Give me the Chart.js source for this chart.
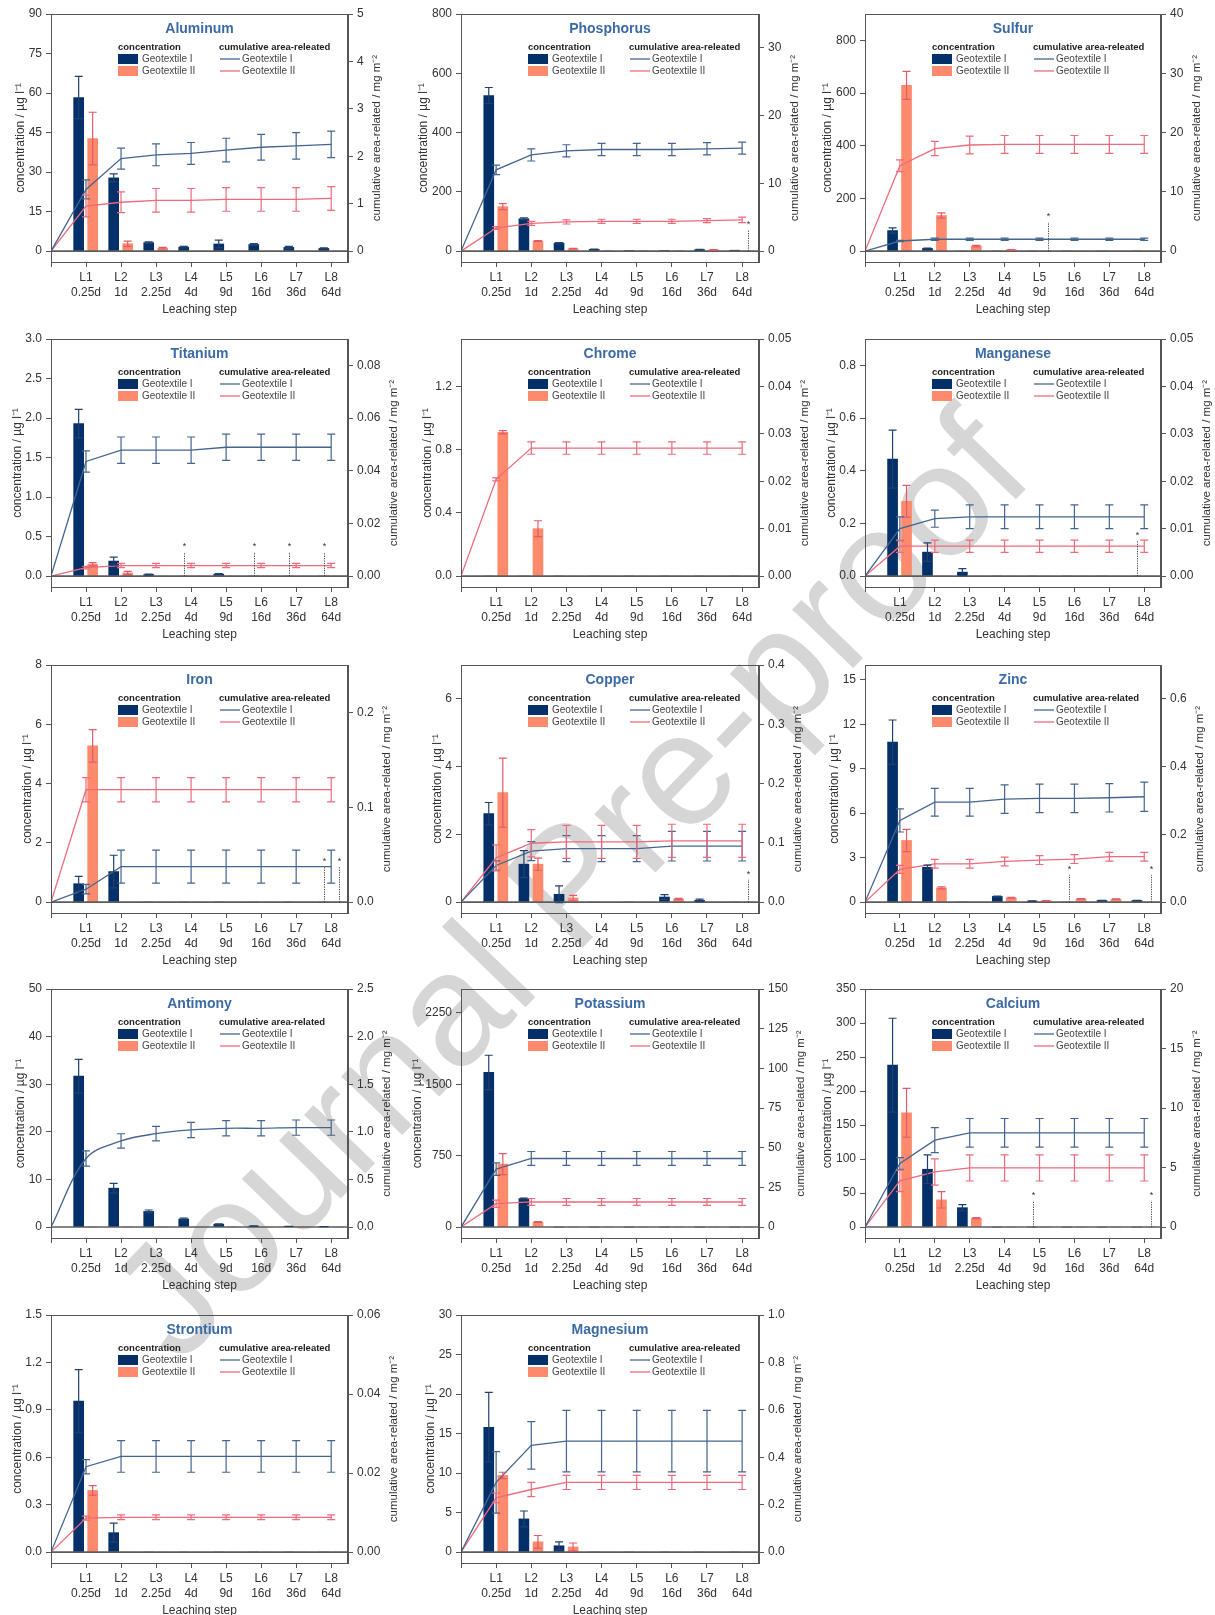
<!DOCTYPE html>
<html>
<head>
<meta charset="utf-8">
<script src="https://cdn.jsdelivr.net/npm/chart.js@4.4.1/dist/chart.umd.min.js"></script>
<style>
  body { margin: 0; background: #fff; }
  #page { position: relative; width: 1215px; height: 1615px; overflow: hidden; }
  .panel { position: absolute; z-index: 1; }
  #mark {
    position: absolute; left: 568px; top: 884px; z-index: 0;
    transform: translate(-50%, -50%) rotate(-46deg);
    font: 160px "Liberation Sans", Arial, sans-serif; color: #d6d6d6; white-space: nowrap;
  }
</style>
</head>
<body>
<div id="page"><div id="mark">Journal Pre-proof</div></div>
<script>
const elements = ['Aluminum', 'Phosphorus', 'Sulfur', 'Titanium', 'Chrome', 'Manganese', 'Iron',
  'Copper', 'Zinc', 'Antimony', 'Potassium', 'Calcium', 'Strontium', 'Magnesium'];
const stepNames = ['L1', 'L2', 'L3', 'L4', 'L5', 'L6', 'L7', 'L8'];
const stepDays = ['0.25d', '1d', '2.25d', '4d', '9d', '16d', '36d', '64d'];

// concentration (bars), µg/l
const concI = [
  [58.3, 27.8, 3.2, 1.5, 2.7, 2.5, 1.4, 1.0],
  [525, 109, 27, 6, 2, 2, 5, 3],
  [78, 10, 0, 0, 0, 0, 0, 0],
  [1.93, 0.19, 0.02, 0, 0.025, 0, 0, 0],
  [0, 0, 0, 0, 0, 0, 0, 0],
  [0.444, 0.091, 0.015, 0, 0, 0, 0, 0],
  [0.62, 1.03, 0, 0, 0, 0, 0, 0],
  [2.61, 1.12, 0.23, 0, 0, 0.15, 0.05, 0],
  [10.79, 2.35, 0, 0.38, 0.07, 0, 0.11, 0.11],
  [31.7, 8.17, 3.28, 1.68, 0.6, 0.2, 0.14, 0.07],
  [1624, 299, 0, 0, 0, 0, 0, 0],
  [238, 85, 28.5, 0, 0, 0, 0, 0],
  [0.955, 0.123, 0, 0, 0, 0, 0, 0],
  [15.8, 4.2, 0.8, 0, 0, 0, 0, 0]
];
const concIErr = [
  [8, 1.5, 0.3, 0.3, 1.5, 0.3, 0.4, 0.2],
  [27, 3, 2, 1, 0, 0, 1, 0],
  [10, 1, 0, 0, 0, 0, 0, 0],
  [0.18, 0.05, 0.005, 0, 0.005, 0, 0, 0],
  [0, 0, 0, 0, 0, 0, 0, 0],
  [0.11, 0.035, 0.013, 0, 0, 0, 0, 0],
  [0.25, 0.55, 0, 0, 0, 0, 0, 0],
  [0.33, 0.4, 0.25, 0, 0, 0.07, 0.04, 0],
  [1.5, 0.15, 0, 0.03, 0.01, 0, 0.01, 0.01],
  [3.5, 1.0, 0.3, 0.2, 0.08, 0.03, 0.02, 0.01],
  [180, 5, 0, 0, 0, 0, 0, 0],
  [69, 21, 4.5, 0, 0, 0, 0, 0],
  [0.2, 0.06, 0, 0, 0, 0, 0, 0],
  [4.4, 1.0, 0.5, 0, 0, 0, 0, 0]
];
const concII = [
  [42.7, 2.8, 1.1, 0, 0, 0, 0, 0],
  [150, 34, 8, 2, 1, 1, 4, 0],
  [629, 135, 19, 5, 0, 0, 0, 0],
  [0.15, 0.04, 0, 0, 0, 0, 0, 0],
  [0.91, 0.30, 0, 0, 0, 0, 0, 0],
  [0.284, 0, 0, 0, 0, 0, 0, 0],
  [5.27, 0, 0, 0, 0, 0, 0, 0],
  [3.23, 1.12, 0.12, 0, 0, 0.09, 0, 0],
  [4.16, 0.96, 0, 0.29, 0.09, 0.22, 0.2, 0],
  [0, 0, 0, 0, 0, 0, 0, 0],
  [661, 53, 0, 0, 0, 0, 0, 0],
  [168, 40, 12.8, 0, 0, 0, 0, 0],
  [0.39, 0, 0, 0, 0, 0, 0, 0],
  [9.7, 1.3, 0.65, 0, 0, 0, 0, 0]
];
const concIIErr = [
  [10, 1, 0.3, 0, 0, 0, 0, 0],
  [10, 1, 1, 0, 0, 0, 1, 0],
  [53, 10, 3, 1, 0, 0, 0, 0],
  [0.02, 0.02, 0, 0, 0, 0, 0, 0],
  [0.01, 0.05, 0, 0, 0, 0, 0, 0],
  [0.06, 0, 0, 0, 0, 0, 0, 0],
  [0.55, 0, 0, 0, 0, 0, 0, 0],
  [1.02, 0.18, 0.08, 0, 0, 0.02, 0, 0],
  [0.75, 0.07, 0, 0.03, 0.01, 0.02, 0.02, 0],
  [0, 0, 0, 0, 0, 0, 0, 0],
  [110, 5, 0, 0, 0, 0, 0, 0],
  [36, 12, 1, 0, 0, 0, 0, 0],
  [0.03, 0, 0, 0, 0, 0, 0, 0],
  [0.4, 0.8, 0.5, 0, 0, 0, 0, 0]
];

// cumulative area-related release (lines), mg/m2
const cumI = [
  [1.30, 1.95, 2.03, 2.06, 2.13, 2.19, 2.22, 2.25],
  [12.0, 14.2, 14.8, 15.0, 15.0, 15.0, 15.1, 15.2],
  [1.7, 2.0, 2.0, 2.0, 2.0, 2.0, 2.0, 2.0],
  [0.0435, 0.0478, 0.0478, 0.0478, 0.0489, 0.0489, 0.0489, 0.0489],
  null,
  [0.0100, 0.0121, 0.0125, 0.0125, 0.0125, 0.0125, 0.0125, 0.0125],
  [0.0136, 0.0374, 0.0374, 0.0374, 0.0374, 0.0374, 0.0374, 0.0374],
  [0.0617, 0.0859, 0.0903, 0.0903, 0.0903, 0.0943, 0.0943, 0.0943],
  [0.241, 0.295, 0.295, 0.304, 0.306, 0.306, 0.308, 0.311],
  [0.72, 0.904, 0.981, 1.02, 1.037, 1.037, 1.044, 1.044],
  [36.5, 43.2, 43.2, 43.2, 43.2, 43.2, 43.2, 43.2],
  [5.34, 7.30, 7.92, 7.92, 7.92, 7.92, 7.92, 7.92],
  [0.0216, 0.0242, 0.0242, 0.0242, 0.0242, 0.0242, 0.0242, 0.0242],
  [0.294, 0.45, 0.468, 0.468, 0.468, 0.468, 0.468, 0.468]
];
const cumIErr = [
  [0.2, 0.22, 0.23, 0.23, 0.25, 0.27, 0.28, 0.28],
  [0.7, 0.9, 0.9, 0.9, 0.9, 0.9, 0.9, 0.9],
  [0.1, 0.2, 0.2, 0.2, 0.2, 0.2, 0.2, 0.2],
  [0.004, 0.005, 0.005, 0.005, 0.005, 0.005, 0.005, 0.005],
  null,
  [0.0025, 0.0018, 0.0025, 0.0025, 0.0025, 0.0025, 0.0025, 0.0025],
  [0.005, 0.0175, 0.0175, 0.0175, 0.0175, 0.0175, 0.0175, 0.0175],
  [0.008, 0.016, 0.022, 0.022, 0.022, 0.025, 0.025, 0.025],
  [0.034, 0.041, 0.041, 0.042, 0.042, 0.042, 0.042, 0.043],
  [0.08, 0.076, 0.076, 0.08, 0.08, 0.08, 0.08, 0.08],
  [4, 4.4, 4.4, 4.4, 4.4, 4.4, 4.4, 4.4],
  [0.5, 1.05, 1.2, 1.2, 1.2, 1.2, 1.2, 1.2],
  [0.0018, 0.004, 0.004, 0.004, 0.004, 0.004, 0.004, 0.004],
  [0.13, 0.1, 0.13, 0.13, 0.13, 0.13, 0.13, 0.13]
];
const cumII = [
  [0.95, 1.03, 1.07, 1.07, 1.09, 1.09, 1.09, 1.11],
  [3.4, 4.1, 4.3, 4.4, 4.4, 4.4, 4.5, 4.6],
  [14.4, 17.3, 17.9, 18.0, 18.0, 18.0, 18.0, 18.0],
  [0.0032, 0.004, 0.004, 0.004, 0.004, 0.004, 0.004, 0.004],
  [0.0204, 0.027, 0.027, 0.027, 0.027, 0.027, 0.027, 0.027],
  [0.0063, 0.0063, 0.0063, 0.0063, 0.0063, 0.0063, 0.0063, 0.0063],
  [0.1185, 0.1185, 0.1185, 0.1185, 0.1185, 0.1185, 0.1185, 0.1185],
  [0.0746, 0.0993, 0.1016, 0.1016, 0.1016, 0.1033, 0.1033, 0.1033],
  [0.0966, 0.113, 0.113, 0.120, 0.124, 0.127, 0.134, 0.134],
  null,
  [14.7, 15.8, 15.8, 15.8, 15.8, 15.8, 15.8, 15.8],
  [3.88, 4.63, 4.97, 4.97, 4.97, 4.97, 4.97, 4.97],
  [0.0086, 0.0088, 0.0088, 0.0088, 0.0088, 0.0088, 0.0088, 0.0088],
  [0.229, 0.264, 0.294, 0.294, 0.294, 0.294, 0.294, 0.294]
];
const cumIIErr = [
  [0.23, 0.22, 0.25, 0.25, 0.25, 0.25, 0.25, 0.25],
  [0.2, 0.3, 0.3, 0.3, 0.3, 0.3, 0.3, 0.4],
  [1.0, 1.2, 1.5, 1.5, 1.5, 1.5, 1.5, 1.5],
  [0.0005, 0.0008, 0.0008, 0.0008, 0.0008, 0.0008, 0.0008, 0.0008],
  [0.0003, 0.0013, 0.0013, 0.0013, 0.0013, 0.0013, 0.0013, 0.0013],
  [0.0013, 0.0013, 0.0013, 0.0013, 0.0013, 0.0013, 0.0013, 0.0013],
  [0.0128, 0.0128, 0.0128, 0.0128, 0.0128, 0.0128, 0.0128, 0.0128],
  [0.022, 0.023, 0.028, 0.028, 0.028, 0.028, 0.028, 0.028],
  [0.012, 0.013, 0.013, 0.013, 0.013, 0.013, 0.013, 0.013],
  null,
  [2.3, 2.2, 2.2, 2.2, 2.2, 2.2, 2.2, 2.2],
  [0.9, 1.1, 1.1, 1.1, 1.1, 1.1, 1.1, 1.1],
  [0.0005, 0.0006, 0.0006, 0.0006, 0.0006, 0.0006, 0.0006, 0.0006],
  [0.02, 0.03, 0.03, 0.03, 0.03, 0.03, 0.03, 0.03]
];

// dotted "*" notes: [step position, height on concentration axis]
const notes = [
  [], [[8.18, 70]], [[5.24, 110]], [[3.79, 0.3], [5.8, 0.3], [6.8, 0.3], [7.79, 0.3]], [],
  [[7.8, 0.135]], [[7.8, 1.2], [8.22, 1.2]], [[8.18, 0.66]], [[5.84, 1.84], [8.19, 1.84]],
  [], [], [[4.82, 39], [8.19, 39]], [], []
];

const leftTicks = [
  ['0', '15', '30', '45', '60', '75', '90'],
  ['0', '200', '400', '600', '800'],
  ['0', '200', '400', '600', '800'],
  ['0.0', '0.5', '1.0', '1.5', '2.0', '2.5', '3.0'],
  ['0.0', '0.4', '0.8', '1.2'],
  ['0.0', '0.2', '0.4', '0.6', '0.8'],
  ['0', '2', '4', '6', '8'],
  ['0', '2', '4', '6'],
  ['0', '3', '6', '9', '12', '15'],
  ['0', '10', '20', '30', '40', '50'],
  ['0', '750', '1500', '2250'],
  ['0', '50', '100', '150', '200', '250', '300', '350'],
  ['0.0', '0.3', '0.6', '0.9', '1.2', '1.5'],
  ['0', '5', '10', '15', '20', '25', '30']
];
const leftMax = [90, 800, 900, 3, 1.5, 0.9, 8, 7, 16, 50, 2500, 350, 1.5, 30];
const rightTicks = [
  ['0', '1', '2', '3', '4', '5'],
  ['0', '10', '20', '30'],
  ['0', '10', '20', '30', '40'],
  ['0.00', '0.02', '0.04', '0.06', '0.08'],
  ['0.00', '0.01', '0.02', '0.03', '0.04', '0.05'],
  ['0.00', '0.01', '0.02', '0.03', '0.04', '0.05'],
  ['0.0', '0.1', '0.2'],
  ['0.0', '0.1', '0.2', '0.3', '0.4'],
  ['0.0', '0.2', '0.4', '0.6'],
  ['0.0', '0.5', '1.0', '1.5', '2.0', '2.5'],
  ['0', '25', '50', '75', '100', '125', '150'],
  ['0', '5', '10', '15', '20'],
  ['0.00', '0.02', '0.04', '0.06'],
  ['0.0', '0.2', '0.4', '0.6', '0.8', '1.0']
];
const rightMax = [5, 35, 40, 0.09, 0.05, 0.05, 0.25, 0.4, 0.7, 2.5, 150, 20, 0.06, 1.0];

// grid of panels
const colLeft = [0, 407, 813], colWidth = [407, 406, 402];
const areaLeft = [51, 54, 52], areaRight = [348, 352, 348];
const rowTop = [0, 325, 650, 973, 1298], rowHeight = [325, 325, 323, 325, 317];
const areaTop = [14, 14, 15, 16, 17], areaBottom = [262, 262, 263, 265, 265];

const FONT = '"Liberation Sans", Arial, Helvetica, sans-serif';
const NAVY = '#04306a', SALMON = '#fd8a6c', LINE1 = '#456590', LINE2 = '#ee6a7c';
const BELOW = 0.046;

Chart.defaults.font.family = FONT;
Chart.defaults.color = '#333';

function makeDecor(k) {
  const lineTitle = (elements[k] === 'Zinc' || elements[k] === 'Antimony')
    ? 'cumulative area-related' : 'cumulative area-releated';
  return {
    id: 'decor',
    afterDatasetsDraw(chart) {
      const { ctx, chartArea: a, scales } = chart;
      const y0 = scales.y.getPixelForValue(0);
      ctx.save();
      ctx.strokeStyle = '#5c5c5c'; ctx.lineWidth = 1.6;
      ctx.beginPath(); ctx.moveTo(a.left, y0); ctx.lineTo(a.right, y0); ctx.stroke();

      chart.data.datasets.forEach((ds, di) => {
        if (!ds.err) return;
        const meta = chart.getDatasetMeta(di);
        const sc = scales[ds.yAxisID];
        ctx.strokeStyle = ds.errColor; ctx.lineWidth = 1.2;
        ds.data.forEach((p, j) => {
          const e = ds.err[j];
          if (!e) return;
          const x = meta.data[j].x;
          const yt = sc.getPixelForValue(p.y + e), yb = sc.getPixelForValue(p.y - e);
          ctx.beginPath();
          ctx.moveTo(x, yb); ctx.lineTo(x, yt);
          ctx.moveTo(x - 4, yt); ctx.lineTo(x + 4, yt);
          ctx.moveTo(x - 4, yb); ctx.lineTo(x + 4, yb);
          ctx.stroke();
        });
      });

      ctx.strokeStyle = '#444'; ctx.fillStyle = '#333'; ctx.lineWidth = 1;
      ctx.font = '9px ' + FONT; ctx.textAlign = 'center';
      notes[k].forEach(([nx, ny]) => {
        const x = Math.round(scales.x.getPixelForValue(nx)) + 0.5;
        const yt = scales.y.getPixelForValue(ny);
        ctx.setLineDash([1.2, 1.2]);
        ctx.beginPath(); ctx.moveTo(x, y0); ctx.lineTo(x, yt); ctx.stroke();
        ctx.setLineDash([]);
        ctx.fillText('*', x, yt - 3);
      });
      ctx.restore();
    },
    afterDraw(chart) {
      const { ctx, chartArea: a } = chart;
      ctx.save();
      ctx.strokeStyle = '#555'; ctx.lineWidth = 1;
      ctx.strokeRect(Math.round(a.left) + 0.5, Math.round(a.top) + 0.5,
        Math.round(a.width) - 1, Math.round(a.height));

      ctx.fillStyle = '#3b6aa6'; ctx.font = 'bold 14px ' + FONT;
      ctx.textAlign = 'center'; ctx.textBaseline = 'middle';
      ctx.fillText(elements[k], (a.left + a.right) / 2, a.top + 15);

      const lx = a.left + 67, rx = a.left + 168, hy = a.top + 33;
      ctx.textAlign = 'left'; ctx.fillStyle = '#222'; ctx.font = 'bold 9.5px ' + FONT;
      ctx.fillText('concentration', lx, hy);
      ctx.fillText(lineTitle, rx, hy);
      [[NAVY, LINE1, 'Geotextile I'], [SALMON, LINE2, 'Geotextile II']].forEach(([bc, lc, t], i) => {
        const y = hy + 12 + 12 * i;
        ctx.fillStyle = bc; ctx.fillRect(lx, y - 5, 20, 10);
        ctx.fillStyle = '#444'; ctx.font = '10px ' + FONT;
        ctx.fillText(t, lx + 24, y);
        ctx.strokeStyle = lc; ctx.lineWidth = 1.3;
        ctx.beginPath(); ctx.moveTo(rx + 1, y); ctx.lineTo(rx + 21, y); ctx.stroke();
        ctx.fillText(t, rx + 23, y);
      });

      ctx.font = '12px ' + FONT;
      const lw = Math.max(...leftTicks[k].map(s => ctx.measureText(s).width));
      const rw = Math.max(...rightTicks[k].map(s => ctx.measureText(s).width));
      const cy = (a.top + a.bottom) / 2;
      ctx.fillStyle = '#333'; ctx.textAlign = 'center';
      ctx.save();
      ctx.translate(a.left - 9 - lw - 8, cy); ctx.rotate(-Math.PI / 2);
      ctx.fillText('concentration / µg l⁻¹', 0, 0);
      ctx.restore();
      ctx.font = '11.5px ' + FONT;
      ctx.translate(a.right + 9 + rw + 13, cy); ctx.rotate(-Math.PI / 2);
      ctx.fillText('cumulative area-related / mg m⁻²', 0, 0);
      ctx.restore();
    }
  };
}

const page = document.getElementById('page');
elements.forEach((name, k) => {
  const r = Math.floor(k / 3), c = k % 3;
  const W = colWidth[c], H = rowHeight[r];
  const div = document.createElement('div');
  div.className = 'panel';
  div.style.left = colLeft[c] + 'px';
  div.style.top = rowTop[r] + 'px';
  div.style.width = W + 'px';
  div.style.height = H + 'px';
  const cv = document.createElement('canvas');
  cv.width = W; cv.height = H;
  div.appendChild(cv);
  page.appendChild(div);

  const datasets = [
    { type: 'bar', label: 'Geotextile I', data: concI[k].map((v, i) => ({ x: i + 1 - 0.21, y: v })),
      err: concIErr[k], errColor: '#22406c', backgroundColor: NAVY, barThickness: 10,
      grouped: false, yAxisID: 'y', order: 2 },
    { type: 'bar', label: 'Geotextile II', data: concII[k].map((v, i) => ({ x: i + 1 + 0.19, y: v })),
      err: concIIErr[k], errColor: '#e35a6a', backgroundColor: SALMON, barThickness: 10,
      grouped: false, yAxisID: 'y', order: 2 }
  ];
  const smooth = name === 'Antimony' ? 0.35 : 0;
  if (cumI[k]) datasets.push({
    type: 'line', label: 'Geotextile I', yAxisID: 'y2', order: 1,
    data: [{ x: 0, y: 0 }].concat(cumI[k].map((v, i) => ({ x: i + 1, y: v }))),
    err: [0].concat(cumIErr[k]), errColor: LINE1,
    borderColor: LINE1, borderWidth: 1.3, pointRadius: 0, tension: smooth, fill: false
  });
  if (cumII[k]) datasets.push({
    type: 'line', label: 'Geotextile II', yAxisID: 'y2', order: 1,
    data: [{ x: 0, y: 0 }].concat(cumII[k].map((v, i) => ({ x: i + 1, y: v }))),
    err: [0].concat(cumIIErr[k]), errColor: LINE2,
    borderColor: LINE2, borderWidth: 1.3, pointRadius: 0, tension: smooth, fill: false
  });

  const titlePad = H - areaBottom[r] - 48 - 7.2;
  const tickFont = { size: 12, family: FONT };
  const axisGrid = { drawOnChartArea: false, offset: false, tickLength: 5, color: '#555' };

  new Chart(cv, {
    type: 'bar',
    data: { datasets },
    options: {
      responsive: false,
      maintainAspectRatio: false,
      devicePixelRatio: 1,
      animation: false,
      events: [],
      layout: { padding: { top: areaTop[r], left: 0, right: 0, bottom: 0 } },
      plugins: { legend: { display: false }, tooltip: { enabled: false } },
      scales: {
        x: {
          type: 'linear', min: 0, max: 8.48, offset: false,
          afterBuildTicks: ax => { ax.ticks = [0, 1, 2, 3, 4, 5, 6, 7, 8].map(v => ({ value: v })); },
          afterFit: ax => { ax.height = H - areaBottom[r]; },
          ticks: {
            autoSkip: false, maxRotation: 0, padding: 3, color: '#333',
            font: { size: 12, family: FONT, lineHeight: 1.25 },
            callback: v => v === 0 ? '' : [stepNames[v - 1], stepDays[v - 1]]
          },
          grid: axisGrid,
          border: { color: '#555' },
          title: { display: true, text: 'Leaching step', color: '#333', font: tickFont,
            padding: { top: 0, bottom: titlePad } }
        },
        y: {
          position: 'left', min: -BELOW * leftMax[k], max: leftMax[k],
          afterBuildTicks: ax => { ax.ticks = leftTicks[k].map(s => ({ value: parseFloat(s) })); },
          afterFit: ax => { ax.width = areaLeft[c]; },
          ticks: { padding: 4, color: '#333', font: tickFont, callback: (v, i) => leftTicks[k][i] },
          grid: axisGrid,
          border: { color: '#555' }
        },
        y2: {
          position: 'right', min: -BELOW * rightMax[k], max: rightMax[k],
          afterBuildTicks: ax => { ax.ticks = rightTicks[k].map(s => ({ value: parseFloat(s) })); },
          afterFit: ax => { ax.width = W - areaRight[c]; },
          ticks: { padding: 4, color: '#333', font: tickFont, callback: (v, i) => rightTicks[k][i] },
          grid: axisGrid,
          border: { color: '#555' }
        }
      }
    },
    plugins: [makeDecor(k)]
  });
});
</script>
</body>
</html>
